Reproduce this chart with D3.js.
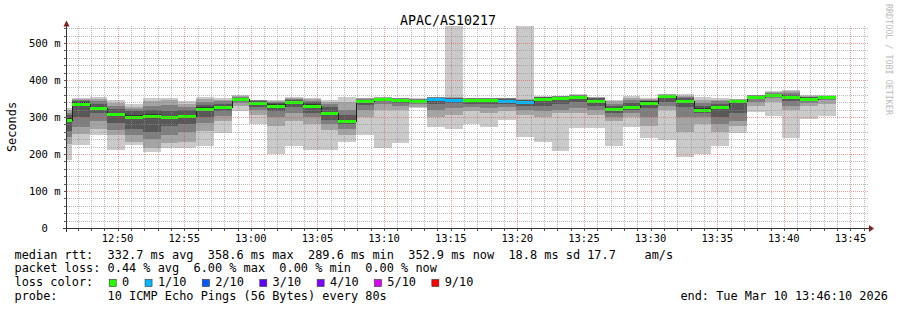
<!DOCTYPE html>
<html>
<head>
<meta charset="utf-8">
<script src="https://cdn.jsdelivr.net/npm/d3@7"></script>
<style>
  body { margin: 0; background: #fff; }
  text { font-family: "DejaVu Sans Mono", monospace; white-space: pre; }
</style>
</head>
<body>
<svg id="chart" width="897" height="310"></svg>
<script>
// time window and step of the probe (80 s bins)
const windowStart = "12:46:10";
const windowEnd = "13:46:10";
const firstBinStart = "12:45:14";
const stepSeconds = 80;

// median rtt per bin (ms)
const medians = [292, 335, 324, 308, 300, 303, 300, 303, 322, 328, 348, 338, 331, 340, 331, 310,
  290, 342, 349, 346, 344, 349, 347, 345, 345, 344, 340, 349, 351, 355, 344, 322,
  328, 339, 357, 342, 320, 327, 342, 355, 360, 354, 349, 353];

// lost pings out of 10 per bin
const lossCount = [0, 0, 0, 0, 0, 0, 0, 0, 0, 0, 0, 0, 0, 0, 0, 0,
  0, 0, 0, 0, 0, 1, 1, 0, 0, 1, 1, 0, 0, 0, 0, 0,
  0, 0, 0, 0, 0, 0, 0, 0, 0, 0, 0, 0];

// sorted ping times per bin (ms), used for the smoke
const pings = [
  [184, 228, 245, 262, 286, 298, 306, 312, 318, 325],
  [224, 255, 272, 300, 330, 340, 344, 347, 349, 351],
  [250, 268, 290, 310, 320, 328, 336, 342, 348, 353],
  [210, 250, 265, 285, 303, 312, 322, 330, 338, 346],
  [224, 232, 250, 268, 295, 305, 315, 322, 328, 335],
  [206, 215, 240, 260, 298, 308, 318, 330, 342, 351],
  [215, 230, 250, 275, 296, 304, 315, 332, 345, 351],
  [215, 232, 260, 282, 300, 306, 318, 328, 336, 343],
  [222, 262, 285, 300, 318, 326, 332, 340, 348, 355],
  [258, 290, 302, 315, 325, 331, 336, 342, 346, 350],
  [316, 330, 338, 343, 346, 350, 352, 354, 356, 359],
  [281, 305, 320, 328, 335, 341, 343, 345, 346, 347],
  [200, 275, 300, 315, 328, 334, 338, 341, 344, 346],
  [222, 290, 310, 328, 337, 343, 346, 349, 352, 355],
  [212, 280, 300, 312, 328, 334, 340, 344, 348, 352],
  [210, 265, 280, 292, 306, 314, 326, 334, 340, 346],
  [233, 250, 268, 280, 287, 293, 305, 320, 340, 355],
  [252, 300, 320, 332, 340, 344, 347, 349, 351, 352],
  [215, 320, 335, 342, 347, 350, 351, 352, 353, 354],
  [231, 318, 330, 338, 344, 348, 349, 350, 351, 352],
  [323, 328, 334, 338, 342, 346, 347, 348, 349, 351],
  [274, 300, 320, 335, 347, 351, 352, 353, 354, 355],
  [267, 305, 325, 338, 345, 349, 351, 352, 353, 900],
  [280, 315, 328, 335, 343, 347, 349, 350, 351, 352],
  [274, 310, 325, 335, 343, 347, 349, 350, 351, 352],
  [292, 315, 328, 336, 342, 346, 348, 350, 351, 352],
  [247, 305, 318, 330, 338, 342, 345, 347, 349, 900],
  [232, 300, 315, 330, 346, 351, 353, 354, 355, 356],
  [209, 310, 320, 335, 348, 353, 355, 356, 357, 358],
  [271, 312, 325, 340, 353, 357, 358, 359, 360, 361],
  [270, 305, 318, 330, 341, 347, 350, 352, 353, 354],
  [222, 290, 300, 312, 319, 325, 330, 336, 342, 346],
  [274, 300, 310, 320, 326, 331, 338, 345, 352, 357],
  [244, 275, 300, 325, 336, 342, 344, 346, 349, 352],
  [238, 320, 330, 340, 356, 358, 359, 360, 361, 362],
  [191, 260, 300, 328, 339, 345, 350, 355, 358, 361],
  [199, 280, 300, 312, 318, 323, 330, 338, 346, 353],
  [222, 260, 280, 300, 324, 330, 336, 342, 347, 350],
  [258, 275, 290, 310, 338, 345, 346, 347, 348, 349],
  [314, 330, 340, 348, 353, 357, 358, 359, 359, 360],
  [303, 340, 350, 355, 358, 361, 363, 365, 368, 370],
  [244, 320, 330, 342, 352, 356, 360, 365, 370, 373],
  [294, 330, 338, 345, 348, 351, 353, 355, 357, 360],
  [303, 335, 345, 350, 353, 355, 356, 357, 358, 360]
];

const yTickValues = [0, 100, 200, 300, 400, 500];
const xTickLabels = ["12:50", "12:55", "13:00", "13:05", "13:10", "13:15",
  "13:20", "13:25", "13:30", "13:35", "13:40", "13:45"];

const lossLabels = ["0", "1/10", "2/10", "3/10", "4/10", "5/10", "9/10"];
const lossColors = ["#26ff00", "#00b8ff", "#0059ff", "#5e00ff", "#7e00ff", "#dd00ff", "#ff0000"];
const smokeShades = ["#cacaca", "#a4a4a4", "#7e7e7e", "#585858", "#323232"];

const legendLine1 = "median rtt:  332.7 ms avg  358.6 ms max  289.6 ms min  352.9 ms now  18.8 ms sd 17.7    am/s";
const legendLine2 = "packet loss: 0.44 % avg  6.00 % max  0.00 % min  0.00 % now";
const legendLine4 = "probe:       10 ICMP Echo Pings (56 Bytes) every 80s";
const endLabel = "end: Tue Mar 10 13:46:10 2026";

const parse = d3.timeParse("%H:%M:%S");
const svg = d3.select("#chart");

const plot = { left: 66.5, right: 866, top: 26, bottom: 228 };

const x = d3.scaleTime()
  .domain([parse(windowStart), parse(windowEnd)])
  .range([plot.left, plot.right]);

const y = d3.scaleLinear()
  .domain([0, 545.9])
  .range([plot.bottom, plot.top]);

const bins = pings.map((p, i) => {
  const start = d3.timeSecond.offset(parse(firstBinStart), i * stepSeconds);
  const end = d3.timeSecond.offset(start, stepSeconds);
  return { start, end, p, median: medians[i], loss: lossCount[i] };
});

svg.append("defs").append("clipPath").attr("id", "plotclip")
  .append("rect")
  .attr("x", plot.left).attr("y", plot.top)
  .attr("width", plot.right - plot.left + 1)
  .attr("height", plot.bottom - plot.top);

const area = svg.append("g").attr("clip-path", "url(#plotclip)");

// smoke: band j spans ping j .. ping (9-j), darker towards the middle
smokeShades.forEach((shade, j) => {
  area.append("g")
    .selectAll("rect")
    .data(bins)
    .join("rect")
    .attr("shape-rendering", "crispEdges")
    .attr("x", d => Math.round(x(d.start)))
    .attr("width", d => Math.round(x(d.end)) - Math.round(x(d.start)))
    .attr("y", d => Math.round(y(d.p[9 - j])))
    .attr("height", d => Math.round(y(d.p[j])) - Math.round(y(d.p[9 - j])))
    .attr("fill", shade);
});

// grid
const minorColor = "rgba(140,140,140,0.6)";
const majorColor = "rgba(225,60,60,0.5)";
const grid = svg.append("g").attr("shape-rendering", "crispEdges");
const minutes = d3.timeMinute.range(x.domain()[0], x.domain()[1]);
minutes.forEach(m => {
  const major = m.getMinutes() % 5 === 0;
  const xx = Math.round(x(m)) + 0.5;
  grid.append("line")
    .attr("x1", xx).attr("x2", xx)
    .attr("y1", plot.top).attr("y2", plot.bottom)
    .attr("stroke", major ? majorColor : minorColor)
    .attr("stroke-dasharray", "1,1");
});
d3.range(20, 541, 20).forEach(v => {
  const major = v % 100 === 0;
  const yy = Math.round(y(v)) + 0.5;
  grid.append("line")
    .attr("x1", plot.left).attr("x2", plot.right + 2)
    .attr("y1", yy).attr("y2", yy)
    .attr("stroke", major ? majorColor : minorColor)
    .attr("stroke-dasharray", "1,1");
});

// median: dark step line plus loss-coloured band
const medianPoints = bins.map(d => [d.start, d.median]);
medianPoints.push([bins[bins.length - 1].end, bins[bins.length - 1].median]);
const stepLine = d3.line()
  .x(d => Math.round(x(d[0])))
  .y(d => Math.round(y(d[1])) + 0.5)
  .curve(d3.curveStepAfter);
area.append("path")
  .attr("d", stepLine(medianPoints))
  .attr("fill", "none")
  .attr("stroke", "#202020")
  .attr("stroke-width", 1)
  .attr("shape-rendering", "crispEdges");

area.append("g")
  .selectAll("rect")
  .data(bins)
  .join("rect")
  .attr("shape-rendering", "crispEdges")
  .attr("x", d => Math.round(x(d.start)))
  .attr("width", d => Math.round(x(d.end)) - Math.round(x(d.start)))
  .attr("y", d => Math.round(y(d.median)) - 1)
  .attr("height", 3)
  .attr("fill", d => lossColors[d.loss]);

// axes
const axis = svg.append("g").attr("shape-rendering", "crispEdges");
axis.append("line")
  .attr("x1", 63).attr("x2", 869)
  .attr("y1", plot.bottom + 0.5).attr("y2", plot.bottom + 0.5)
  .attr("stroke", "#333");
axis.append("line")
  .attr("x1", plot.left).attr("x2", plot.left)
  .attr("y1", plot.bottom + 4).attr("y2", 23)
  .attr("stroke", "#333");

minutes.forEach(m => {
  const xx = Math.round(x(m)) + 0.5;
  axis.append("line")
    .attr("x1", xx).attr("x2", xx)
    .attr("y1", plot.bottom + 1).attr("y2", plot.bottom + 3)
    .attr("stroke", "#555");
});
d3.range(20, 541, 20).forEach(v => {
  const yy = Math.round(y(v)) + 0.5;
  axis.append("line")
    .attr("x1", plot.left - 3).attr("x2", plot.left)
    .attr("y1", yy).attr("y2", yy)
    .attr("stroke", "#555");
});

svg.append("path")
  .attr("d", "M869,225L874,228.5L869,232Z")
  .attr("fill", "#7f1f1f");
svg.append("path")
  .attr("d", "M63.5,26.5L66.5,20.5L69.5,26.5Z")
  .attr("fill", "#7f1f1f");

// tick labels
svg.append("g")
  .selectAll("text")
  .data(yTickValues)
  .join("text")
  .attr("x", d => d === 0 ? 47.8 : 60.5)
  .attr("y", d => y(d) + 3.8)
  .attr("text-anchor", "end")
  .attr("font-size", "10.5px")
  .attr("fill", "#000")
  .text(d => d === 0 ? "0" : d + " m");

svg.append("g")
  .selectAll("text")
  .data(xTickLabels)
  .join("text")
  .attr("x", d => x(parse(d + ":00")))
  .attr("y", 241.5)
  .attr("text-anchor", "middle")
  .attr("font-size", "10.5px")
  .attr("fill", "#000")
  .text(d => d);

// title, axis label, watermark
svg.append("text")
  .attr("x", 448).attr("y", 24.5)
  .attr("text-anchor", "middle")
  .attr("font-size", "13.3px")
  .text("APAC/AS10217");

svg.append("text")
  .attr("transform", "translate(15.5,127) rotate(-90)")
  .attr("text-anchor", "middle")
  .attr("font-size", "11.9px")
  .text("Seconds");

svg.append("text")
  .attr("transform", "translate(885.5,4) rotate(90)")
  .attr("font-size", "8.4px")
  .attr("fill", "#bbbbbb")
  .text("RRDTOOL / TOBI OETIKER");

// legend
const cw = 7.17;
const lx = 14.5;
const legend = svg.append("g").attr("font-size", "11.9px").attr("fill", "#000");
legend.append("text").attr("x", lx).attr("y", 258.5).text(legendLine1);
legend.append("text").attr("x", lx).attr("y", 272).text(legendLine2);
legend.append("text").attr("x", lx).attr("y", 286).text("loss color:");
legend.append("text").attr("x", lx).attr("y", 299.5).text(legendLine4);
legend.append("text").attr("x", 888).attr("y", 299.5).attr("text-anchor", "end").text(endLabel);

let col = 13;
lossLabels.forEach((label, i) => {
  legend.append("rect")
    .attr("x", lx + col * cw + 1.5)
    .attr("y", 279.5)
    .attr("width", 7).attr("height", 7)
    .attr("fill", lossColors[i])
    .attr("stroke", "#333")
    .attr("stroke-width", 0.6);
  legend.append("text")
    .attr("x", lx + (col + 2) * cw)
    .attr("y", 286)
    .text(label);
  col += 2 + label.length + 2;
});
</script>
</body>
</html>
